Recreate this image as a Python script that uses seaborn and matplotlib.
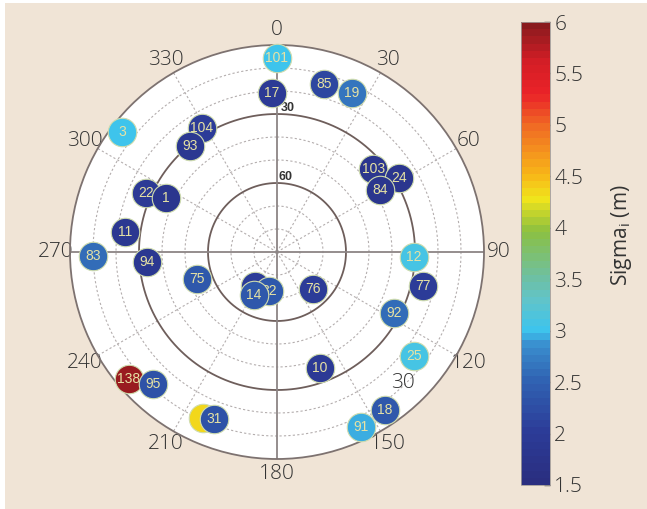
import matplotlib
matplotlib.use("Agg")
import matplotlib.pyplot as plt
import seaborn as sns
import numpy as np
import pandas as pd
from matplotlib.colors import LinearSegmentedColormap, Normalize
from matplotlib.cm import ScalarMappable
from matplotlib.patches import Rectangle

# --- satellite data (drawing order = list order) ---
prn = ['101', '17', '85', '19', '3', '104', '93', '22', '1', '11', '83', '94', '75',
       '', '32', '14', '76', '10', '12', '77', '92', '25', '91', '18',
       '103', '24', '84', '138', '95', '', '31']
azimuth = [0.0, 358.2, 15.6, 25.3, 307.7, 328.8, 320.6, 294.2, 295.9, 277.5, 268.8, 265.6, 251.4,
           212.9, 191.6, 208.1, 135.8, 159.7, 92.1, 103.1, 117.5, 127.2, 154.4, 145.6,
           49.2, 58.8, 59.0, 229.4, 223.2, 204.0, 200.7]
elevation = [5.7, 21.0, 14.1, 13.6, 4.8, 27.0, 30.4, 27.5, 36.3, 23.3, 10.0, 33.3, 53.3,
             72.4, 72.7, 68.8, 67.6, 36.2, 30.4, 24.8, 32.6, 15.2, 5.6, 6.8,
             34.8, 28.0, 37.8, 5.2, 11.3, 11.0, 12.4]
sigma = [3.0, 1.95, 2.15, 2.65, 3.0, 2.0, 1.9, 1.95, 1.85, 1.9, 2.6, 1.9, 2.35,
         2.0, 2.4, 2.35, 2.0, 1.95, 3.05, 2.05, 2.6, 3.1, 2.95, 2.35,
         1.8, 1.8, 1.85, 5.9, 2.3, 4.35, 2.3]

angle_ticks = [0, 30, 60, 90, 120, 150, 180, 210, 240, 270, 300, 330]
angle_labels = ['0', '30', '60', '90', '120', '150', '180', '210', '240', '270', '300', '330']
elev_labels = [30, 60]
cbar_ticks = [1.5, 2, 2.5, 3, 3.5, 4, 4.5, 5, 5.5, 6]
cbar_ticklabels = ['1.5', '2', '2.5', '3', '3.5', '4', '4.5', '5', '5.5', '6']

df = pd.DataFrame({'prn': prn, 'az': azimuth, 'el': elevation, 'sigma': sigma})
df['theta'] = np.radians(df['az'])
df['zen'] = 90 - df['el']

# printed-looking jet
cmap = LinearSegmentedColormap.from_list('printjet', [
    (0.00, '#2a2e80'), (0.11, '#2c3c98'), (0.22, '#3062b2'), (0.30, '#3a8ece'),
    (0.33, '#3cc4ee'), (0.40, '#62c4c8'), (0.44, '#6cc0a8'), (0.55, '#8cc040'),
    (0.62, '#f0e41c'), (0.67, '#f8b818'), (0.78, '#f06a24'), (0.85, '#ea2228'),
    (0.92, '#d41e26'), (1.00, '#8a1a1e')], N=64)
norm = Normalize(1.5, 6)

sns.set_style('white')
plt.rcParams['font.family'] = ['Open Sans', 'DejaVu Sans']
plt.rcParams['font.weight'] = 'light'

fig = plt.figure(figsize=(6.47, 5.09), dpi=100, facecolor='white')
fig.patches.append(Rectangle((5 / 647, 0), 1, 506 / 509, transform=fig.transFigure,
                             facecolor='#f0e4d6', edgecolor='none', zorder=-10))

ax = fig.add_axes([70 / 647, 50 / 509, 414 / 647, 414 / 509], projection='polar')
ax.set_facecolor('white')
ax.set_theta_zero_location('N')
ax.set_theta_direction(-1)
ax.set_rlim(0, 90)
ax.set_yticks([])
ax.set_thetagrids(angle_ticks, angle_labels, fontsize=15, color='#333333')
ax.tick_params(axis='x', pad=0)
ax.grid(False)
ax.spines['polar'].set_color('#7d7270')
ax.spines['polar'].set_linewidth(1.3)

# grid rings and spokes
full = np.linspace(0, 2 * np.pi, 361)
for z in [10, 20, 40, 50, 70, 80]:
    ax.plot(full, np.full_like(full, z), color='#b4aeae', lw=0.8, ls=(0, (2, 2)), zorder=1)
for z in [30, 60]:
    ax.plot(full, np.full_like(full, z), color='#6e5e5b', lw=1.3, zorder=1.5)
for a in range(0, 360, 30):
    if a % 90 == 0:
        ax.plot([np.radians(a)] * 2, [0, 90], color='#8c8585', lw=1.3, zorder=1.5)
    else:
        ax.plot([np.radians(a)] * 2, [0, 90], color='#b4aeae', lw=0.8, ls=(0, (2, 2)), zorder=1)

for e in elev_labels:
    ax.text(np.radians(1.5), 90 - e, str(e), fontsize=9, fontweight='bold', color='#333333',
            ha='left', va='bottom', zorder=2, family=['Liberation Sans', 'DejaVu Sans'])
# stray label printed in the lower right of the original figure
ax.text(np.radians(136.1), 79, '30', fontsize=15, color='#333333', ha='center', va='center', zorder=2)

# satellites, one at a time so that overlaps stack like the original
for i, row in df.iterrows():
    sns.scatterplot(data=df.iloc[[i]], x='theta', y='zen', hue='sigma', palette=cmap,
                    hue_norm=norm, s=420, edgecolor='#cfdcae', linewidth=0.8,
                    legend=False, ax=ax, zorder=3 + 2 * i, clip_on=False)
    if row['prn']:
        ax.text(row['theta'], row['zen'], row['prn'], fontsize=10, color='#e6e2a4',
                ha='center', va='center', zorder=4 + 2 * i,
                family=['Liberation Sans', 'DejaVu Sans'])
ax.set_xlabel('')
ax.set_ylabel('')
ax.set_rlim(0, 90)

# colorbar
cax = fig.add_axes([521 / 647, 24 / 509, 29 / 647, 463 / 509])
cb = fig.colorbar(ScalarMappable(norm=norm, cmap=cmap), cax=cax)
cb.set_ticks(cbar_ticks)
cb.set_ticklabels(cbar_ticklabels)
cb.outline.set_edgecolor('#a09a98')
cb.outline.set_linewidth(0.6)
cax.tick_params(direction='in', length=4, width=1, color='#3a3a3a', labelsize=15,
                labelcolor='#333333', pad=3)
cax.set_ylabel('Sigma$_\\mathregular{i}$ (m)', fontsize=15, color='#333333')
cax.yaxis.set_label_coords(3.05, 0.54)

fig.savefig('out.png', dpi=100, facecolor=fig.get_facecolor())
